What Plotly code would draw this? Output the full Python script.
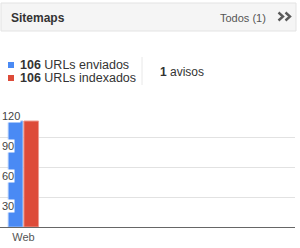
import plotly.graph_objects as go

categories = ["Web"]
series_names = ["URLs enviados", "URLs indexados"]
enviados = [106]
indexados = [106]
series_colors = ["#4a8af4", "#dd4b39"]
edge_colors = ["#9cc0fa", "#ee9a8f"]
y_ticks = [30, 60, 90, 120]
avisos = 1
title_text = "Sitemaps"
all_text = "Todos (1)"

W, H = 300, 248
ML, MR, MT, MB = 0, 5, 107, 21
PW, PH = W - ML - MR, H - MT - MB

def px(x):
    return (x - ML) / PW

def py(y):
    return (H - MB - y) / PH

FONT = "Arial, Liberation Sans, sans-serif"

fig = go.Figure()
for name, vals, col, ecol in zip(series_names, [enviados, indexados], series_colors, edge_colors):
    fig.add_trace(go.Bar(x=categories, y=vals, name=name,
                         marker=dict(color=col, line=dict(color=ecol, width=1))))

shapes = []
annotations = []
# header box
shapes.append(dict(type="rect", xref="paper", yref="paper", x0=px(1), x1=px(296), y0=py(31), y1=py(3),
                   fillcolor="#f5f5f5", line=dict(color="#e3e3e3", width=1), layer="below"))
annotations.append(dict(xref="paper", yref="paper", x=px(9), y=py(18), xanchor="left", yanchor="middle",
                        text="<b>%s</b>" % title_text, showarrow=False,
                        font=dict(family=FONT, size=12, color="#333333")))
annotations.append(dict(xref="paper", yref="paper", x=px(268), y=py(18), xanchor="right", yanchor="middle",
                        text=all_text, showarrow=False, font=dict(family=FONT, size=11, color="#555555")))
# chevrons
def chev(x0):
    return "M %f %f L %f %f L %f %f" % (px(x0), py(12.5), px(x0 + 4.5), py(16.5), px(x0), py(20.5))
shapes.append(dict(type="path", xref="paper", yref="paper", path=chev(278.5) + " " + chev(285.5),
                   line=dict(color="#5a5a5a", width=2.4)))
# legend
rows_y = [65, 78]
for ry, name, vals, col in zip(rows_y, series_names, [enviados, indexados], series_colors):
    shapes.append(dict(type="rect", xref="paper", yref="paper", x0=px(8), x1=px(14), y0=py(ry + 3), y1=py(ry - 3),
                       fillcolor=col, line=dict(width=0)))
    annotations.append(dict(xref="paper", yref="paper", x=px(18), y=py(ry), xanchor="left", yanchor="middle",
                            text="<b>%d</b> %s" % (vals[0], name), showarrow=False,
                            font=dict(family=FONT, size=12.5, color="#333333")))
shapes.append(dict(type="line", xref="paper", yref="paper", x0=px(142), x1=px(142), y0=py(85), y1=py(57),
                   line=dict(color="#e8e8e8", width=1)))
annotations.append(dict(xref="paper", yref="paper", x=px(158), y=py(72), xanchor="left", yanchor="middle",
                        text="<b>%d</b> avisos" % avisos, showarrow=False,
                        font=dict(family=FONT, size=12, color="#333333")))
# y tick labels inside, below gridlines
for t in y_ticks:
    annotations.append(dict(xref="paper", yref="y", x=0.003, y=t, xanchor="left", yanchor="top",
                            text=str(t), showarrow=False, bgcolor="#ffffff", borderpad=0, yshift=-2,
                            font=dict(family=FONT, size=11, color="#444444")))

fig.update_layout(
    width=W, height=H, margin=dict(l=ML, r=MR, t=MT, b=MB),
    paper_bgcolor="white", plot_bgcolor="white",
    showlegend=False, barmode="group", bargap=0.2, bargroupgap=0.06,
    shapes=shapes, annotations=annotations,
    xaxis=dict(type="category", range=[-0.6, 6.96], showgrid=False, showline=True, linecolor="#666666",
               linewidth=1, ticks="", tickfont=dict(family=FONT, size=11, color="#555555"), fixedrange=True),
    yaxis=dict(range=[0, 120], tickvals=y_ticks, showticklabels=False, showgrid=True, gridcolor="#e2e2e2",
               gridwidth=1, zeroline=False, showline=False, fixedrange=True),
    font=dict(family=FONT),
)
fig.write_html("out.html", config={"displayModeBar": False})
